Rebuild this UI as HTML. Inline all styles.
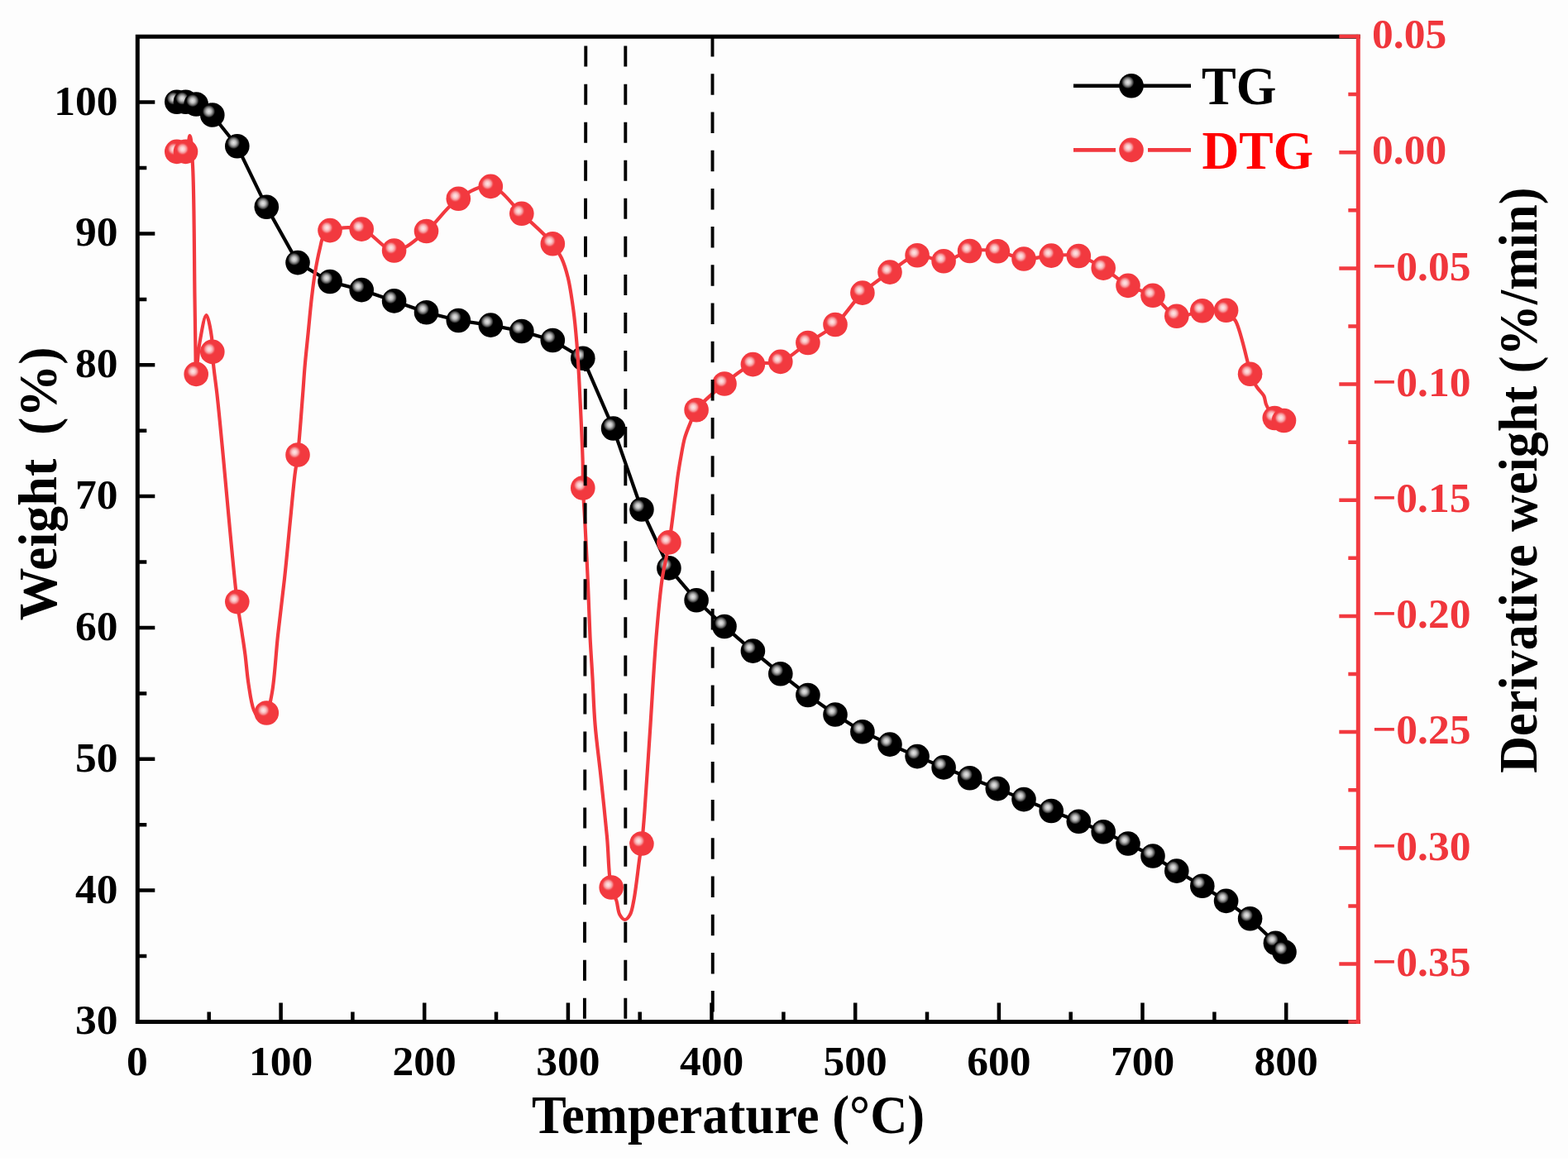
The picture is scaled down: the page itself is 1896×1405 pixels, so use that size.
<!DOCTYPE html><html><head><meta charset="utf-8"><title>TG DTG</title><style>
html,body{margin:0;padding:0;background:#fff;overflow:hidden}svg{display:block}
text{font-family:"Liberation Serif","Times New Roman",serif;font-weight:bold}
</style></head><body>
<svg width="1896" height="1405" viewBox="0 0 1896 1405">
<defs>
<radialGradient id="hb" cx="0.5" cy="0.5" r="0.5"><stop offset="0" stop-color="#e8e8e8"/><stop offset="0.35" stop-color="#c2c2c2"/><stop offset="0.62" stop-color="#7a7a7a"/><stop offset="0.85" stop-color="#2a2a2a"/><stop offset="1" stop-color="#000" stop-opacity="0"/></radialGradient>
<radialGradient id="hr" cx="0.5" cy="0.5" r="0.5"><stop offset="0" stop-color="#fde9e9"/><stop offset="0.35" stop-color="#fbc9ca"/><stop offset="0.65" stop-color="#f6898d"/><stop offset="1" stop-color="#F2393F" stop-opacity="0"/></radialGradient>
<symbol id="mb" overflow="visible"><circle cx="0" cy="0" r="14.8" fill="#000"/><circle cx="-4.3" cy="-4.3" r="8" fill="url(#hb)"/></symbol>
<symbol id="mr" overflow="visible"><circle cx="0" cy="0" r="14.8" fill="#F2393F"/><circle cx="-3.8" cy="-3.3" r="8" fill="url(#hr)"/></symbol>
</defs>
<rect width="1896" height="1405" fill="#fdfdfd"/><rect y="1401" width="1896" height="4" fill="#fff"/>
<g stroke="#000" stroke-width="5" fill="none" stroke-linecap="square">
<path d="M1642.3 44.2 H166.3 V1235.6 H1642.3"/>
</g>
<path d="M166.3 1156.1h11M166.3 1076.6h21M166.3 997.2h11M166.3 917.8h21M166.3 838.4h11M166.3 759.0h21M166.3 679.5h11M166.3 600.1h21M166.3 520.7h11M166.3 441.3h21M166.3 361.9h11M166.3 282.4h21M166.3 203.0h11M166.3 123.6h21M252.7 1235.6v-12M339.6 1235.6v-23M426.4 1235.6v-12M513.2 1235.6v-23M600.0 1235.6v-12M686.9 1235.6v-23M773.7 1235.6v-12M860.5 1235.6v-23M947.4 1235.6v-12M1034.2 1235.6v-23M1121.0 1235.6v-12M1207.9 1235.6v-23M1294.7 1235.6v-12M1381.5 1235.6v-23M1468.4 1235.6v-12M1555.2 1235.6v-23" stroke="#000" stroke-width="4.5" fill="none"/>
<path d="M1642.3 44.0h-23M1642.3 114.1h-12M1642.3 184.2h-23M1642.3 254.3h-12M1642.3 324.4h-23M1642.3 394.5h-12M1642.3 464.6h-23M1642.3 534.7h-12M1642.3 604.7h-23M1642.3 674.8h-12M1642.3 744.9h-23M1642.3 815.0h-12M1642.3 885.1h-23M1642.3 955.2h-12M1642.3 1025.3h-23M1642.3 1095.4h-12M1642.3 1165.5h-23M1642.3 1235.6h-12" stroke="#F2393F" stroke-width="4.5" fill="none"/>
<line x1="1642.3" y1="41.7" x2="1642.3" y2="1238.1" stroke="#F2393F" stroke-width="5"/>
<g font-size="51.5" fill="#000" text-anchor="end">
<text x="142.6" y="1250.4">30</text>
<text x="142.6" y="1091.5">40</text>
<text x="142.6" y="932.7">50</text>
<text x="142.6" y="773.9">60</text>
<text x="142.6" y="615.0">70</text>
<text x="142.6" y="456.2">80</text>
<text x="142.6" y="297.3">90</text>
<text x="142.6" y="138.5">100</text>
</g>
<g font-size="51.5" fill="#000" text-anchor="middle">
<text x="165.9" y="1299.5">0</text>
<text x="339.6" y="1299.5">100</text>
<text x="513.2" y="1299.5">200</text>
<text x="686.9" y="1299.5">300</text>
<text x="860.5" y="1299.5">400</text>
<text x="1034.2" y="1299.5">500</text>
<text x="1207.9" y="1299.5">600</text>
<text x="1381.5" y="1299.5">700</text>
<text x="1555.2" y="1299.5">800</text>
</g>
<g font-size="51.5" fill="#F0363C" text-anchor="start">
<text x="1659" y="58.2">0.05</text>
<text x="1659" y="198.4">0.00</text>
<text x="1659" y="338.6">−0.05</text>
<text x="1659" y="478.8">−0.10</text>
<text x="1659" y="618.9">−0.15</text>
<text x="1659" y="759.1">−0.20</text>
<text x="1659" y="899.3">−0.25</text>
<text x="1659" y="1039.5">−0.30</text>
<text x="1659" y="1179.7">−0.35</text>
</g>
<text transform="translate(643 1370) scale(0.963 1)" font-size="65" fill="#000">Temperature (°C)</text>
<text transform="translate(68.3 750.4) rotate(-90) scale(0.985 1)" font-size="65" fill="#000">Weight</text>
<text transform="translate(68.3 526.0) rotate(-90) scale(0.985 1)" font-size="65" fill="#000">(%)</text>
<text transform="translate(1858.4 934.8) rotate(-90) scale(0.957 1)" font-size="65" fill="#000">Derivative weight (%/min)</text>
<polyline points="213.8,123.3 224.5,123.3 237.2,126.0 256.8,139.0 286.8,176.8 322.3,250.2 360.0,317.6 399.0,340.5 437.2,350.6 476.6,363.9 515.5,377.7 554.3,387.5 593.3,393.1 630.8,400.5 668.3,411.5 704.8,433.2 741.6,518.0 775.9,616.0 808.9,686.9 842.1,725.8 876.0,757.5 910.4,787.1 943.8,814.7 976.9,840.5 1010.0,864.0 1042.9,884.7 1076.0,900.1 1109.1,914.6 1141.1,927.9 1172.6,940.7 1206.3,953.6 1238.0,966.6 1271.2,980.5 1304.3,993.3 1334.2,1005.7 1364.0,1020.0 1394.0,1035.0 1422.8,1053.1 1453.8,1071.3 1482.6,1089.4 1511.6,1110.8 1542.4,1140.3 1553.0,1151.0" fill="none" stroke="#000" stroke-width="4.2" stroke-linejoin="round"/>
<use href="#mb" x="213.8" y="123.3"/>
<use href="#mb" x="224.5" y="123.3"/>
<use href="#mb" x="237.2" y="126.0"/>
<use href="#mb" x="256.8" y="139.0"/>
<use href="#mb" x="286.8" y="176.8"/>
<use href="#mb" x="322.3" y="250.2"/>
<use href="#mb" x="360.0" y="317.6"/>
<use href="#mb" x="399.0" y="340.5"/>
<use href="#mb" x="437.2" y="350.6"/>
<use href="#mb" x="476.6" y="363.9"/>
<use href="#mb" x="515.5" y="377.7"/>
<use href="#mb" x="554.3" y="387.5"/>
<use href="#mb" x="593.3" y="393.1"/>
<use href="#mb" x="630.8" y="400.5"/>
<use href="#mb" x="668.3" y="411.5"/>
<use href="#mb" x="704.8" y="433.2"/>
<use href="#mb" x="741.6" y="518.0"/>
<use href="#mb" x="775.9" y="616.0"/>
<use href="#mb" x="808.9" y="686.9"/>
<use href="#mb" x="842.1" y="725.8"/>
<use href="#mb" x="876.0" y="757.5"/>
<use href="#mb" x="910.4" y="787.1"/>
<use href="#mb" x="943.8" y="814.7"/>
<use href="#mb" x="976.9" y="840.5"/>
<use href="#mb" x="1010.0" y="864.0"/>
<use href="#mb" x="1042.9" y="884.7"/>
<use href="#mb" x="1076.0" y="900.1"/>
<use href="#mb" x="1109.1" y="914.6"/>
<use href="#mb" x="1141.1" y="927.9"/>
<use href="#mb" x="1172.6" y="940.7"/>
<use href="#mb" x="1206.3" y="953.6"/>
<use href="#mb" x="1238.0" y="966.6"/>
<use href="#mb" x="1271.2" y="980.5"/>
<use href="#mb" x="1304.3" y="993.3"/>
<use href="#mb" x="1334.2" y="1005.7"/>
<use href="#mb" x="1364.0" y="1020.0"/>
<use href="#mb" x="1394.0" y="1035.0"/>
<use href="#mb" x="1422.8" y="1053.1"/>
<use href="#mb" x="1453.8" y="1071.3"/>
<use href="#mb" x="1482.6" y="1089.4"/>
<use href="#mb" x="1511.6" y="1110.8"/>
<use href="#mb" x="1542.4" y="1140.3"/>
<use href="#mb" x="1553.0" y="1151.0"/>
<path d="M213.8 183.4C217.4 183.4 221.9 185.4 224.5 183.4C228.0 180.7 228.3 163.9 229.6 164.0C231.4 164.1 232.1 183.7 233.0 200.0C234.9 234.3 234.9 317.5 235.5 360.0C235.9 388.1 236.2 413.1 236.5 430.0C236.7 439.5 236.4 452.4 237.0 452.4C237.8 452.4 239.3 426.3 241.5 414.0C243.6 402.5 247.0 381.0 249.5 381.0C251.8 381.0 254.9 399.9 256.0 408.0C256.9 414.4 256.4 419.4 256.8 425.4C257.2 431.7 257.7 437.8 258.5 445.0C259.5 454.0 260.9 463.4 262.3 475.4C264.3 492.8 266.1 512.5 268.7 539.5C273.2 585.7 282.0 689.6 286.8 727.6C288.9 744.2 290.6 752.0 292.3 763.3C293.8 773.4 295.2 781.9 296.5 792.0C297.9 803.1 298.7 815.7 300.5 827.0C302.2 837.8 303.8 851.2 306.8 858.3C308.6 862.5 310.4 866.9 313.0 867.5C315.6 868.1 319.8 865.2 322.3 862.0C326.1 856.9 327.2 847.2 329.1 836.6C332.2 819.4 333.5 791.0 336.0 768.2C338.5 745.4 341.5 722.5 344.0 699.7C346.5 676.9 348.6 653.1 350.8 631.3C352.8 611.4 354.7 589.2 356.5 574.2C357.7 564.4 358.8 560.2 360.0 550.0C362.0 532.6 364.3 499.6 365.9 479.4C367.1 464.2 367.7 452.9 368.9 439.6C370.1 426.3 371.6 413.0 372.9 399.7C374.2 386.4 375.5 372.1 376.9 359.8C378.2 349.1 379.2 339.9 380.9 330.0C382.6 320.0 384.9 308.1 386.9 300.0C388.3 294.4 388.7 289.7 390.9 286.0C392.8 282.8 394.5 280.3 398.5 278.6C406.1 275.3 424.8 273.6 437.2 277.1C450.9 280.9 463.4 302.7 476.6 303.0C489.5 303.2 503.1 289.3 515.5 279.5C529.1 268.7 540.3 249.3 554.3 240.2C566.5 232.3 581.0 223.2 593.3 225.4C606.7 227.8 618.4 246.9 630.8 258.3C643.4 270.0 660.0 284.3 668.3 294.7C673.5 301.2 676.0 305.6 679.0 312.0C682.3 319.1 684.6 326.8 686.8 335.8C689.6 347.2 691.6 362.1 693.4 375.3C695.2 388.4 696.3 401.5 697.4 414.7C698.5 427.8 699.2 440.1 700.0 454.2C700.9 470.5 701.8 489.3 702.6 506.8C703.4 524.4 704.3 544.3 704.7 559.5C705.0 571.0 704.6 579.0 705.0 590.0C705.4 603.1 706.6 616.8 707.4 633.0C708.5 653.9 709.9 681.6 710.9 705.0C711.9 727.2 712.5 749.8 713.5 770.0C714.4 787.8 715.5 802.8 716.5 820.0C717.5 838.2 718.0 857.2 719.6 876.3C721.2 896.2 724.0 915.7 726.3 937.0C728.8 960.7 731.8 988.3 734.0 1012.0C736.0 1033.4 735.8 1059.4 739.0 1073.0C740.7 1080.2 743.7 1083.5 745.4 1089.0C747.1 1094.5 747.1 1102.0 749.4 1106.0C751.0 1108.8 753.5 1112.0 755.6 1112.0C757.7 1112.0 760.2 1108.8 761.8 1106.0C764.2 1102.0 764.8 1096.3 766.3 1089.0C768.8 1076.5 771.6 1050.0 773.4 1037.4C774.5 1030.1 775.2 1026.9 776.0 1020.0C777.2 1009.8 778.2 997.8 779.4 981.9C781.5 955.5 784.1 911.5 786.5 876.3C788.8 841.1 790.9 802.3 793.5 770.7C795.7 744.9 797.6 721.0 800.6 700.4C803.0 684.0 806.6 671.8 809.1 656.5C811.8 640.0 814.1 619.5 816.0 604.6C817.5 593.3 818.4 583.9 819.7 574.7C820.9 566.7 822.0 559.8 823.4 552.3C824.8 544.8 826.0 536.6 827.9 529.8C829.6 523.8 831.6 518.9 833.9 513.4C836.3 507.6 837.6 502.0 842.1 495.7C849.1 486.0 864.3 473.4 876.0 464.0C887.1 455.1 898.4 444.9 910.4 440.6C921.1 436.7 933.2 441.3 943.8 437.4C955.4 433.1 965.8 422.0 976.9 414.5C987.9 407.0 999.6 401.7 1010.0 392.5C1021.8 382.1 1031.3 365.0 1042.9 354.1C1053.4 344.2 1064.8 336.8 1076.0 329.1C1086.9 321.7 1097.8 310.7 1109.1 308.8C1119.5 307.0 1130.6 316.5 1141.1 315.7C1151.8 314.9 1161.7 305.5 1172.6 303.5C1183.5 301.5 1195.3 302.1 1206.3 303.7C1217.1 305.3 1227.2 312.1 1238.0 313.0C1248.8 313.9 1260.1 309.7 1271.2 309.1C1282.2 308.5 1293.8 307.0 1304.3 309.5C1314.8 312.0 1324.5 318.3 1334.2 324.1C1344.4 330.2 1353.7 339.8 1364.0 345.4C1373.7 350.7 1384.6 351.5 1394.0 357.2C1404.3 363.4 1412.3 379.5 1422.8 382.2C1432.4 384.7 1443.6 376.8 1453.8 375.7C1463.5 374.6 1477.1 372.8 1482.6 375.3C1485.6 376.6 1486.1 379.4 1488.0 381.5C1490.0 383.7 1492.1 384.7 1494.2 388.4C1499.0 397.0 1505.5 425.1 1508.4 436.8C1510.0 443.3 1509.8 447.2 1511.6 452.2C1513.5 457.6 1516.8 463.4 1519.8 468.0C1522.4 472.1 1526.4 475.0 1528.3 478.8C1530.0 482.2 1529.5 485.7 1531.2 489.5C1533.4 494.5 1537.1 502.4 1541.3 505.5C1544.6 507.9 1548.8 507.5 1552.5 508.5" fill="none" stroke="#F2393F" stroke-width="4.2" stroke-linejoin="round"/>
<use href="#mr" x="213.8" y="183.4"/>
<use href="#mr" x="224.5" y="183.4"/>
<use href="#mr" x="237.2" y="452.4"/>
<use href="#mr" x="256.8" y="425.4"/>
<use href="#mr" x="286.8" y="727.6"/>
<use href="#mr" x="322.3" y="862.0"/>
<use href="#mr" x="360.0" y="550.0"/>
<use href="#mr" x="399.0" y="278.6"/>
<use href="#mr" x="437.2" y="277.1"/>
<use href="#mr" x="476.6" y="303.0"/>
<use href="#mr" x="515.5" y="279.5"/>
<use href="#mr" x="554.3" y="240.2"/>
<use href="#mr" x="593.3" y="225.4"/>
<use href="#mr" x="630.8" y="258.3"/>
<use href="#mr" x="668.3" y="294.7"/>
<use href="#mr" x="704.8" y="590.0"/>
<use href="#mr" x="739.2" y="1073.0"/>
<use href="#mr" x="775.9" y="1020.0"/>
<use href="#mr" x="808.9" y="655.9"/>
<use href="#mr" x="842.1" y="495.7"/>
<use href="#mr" x="876.0" y="464.0"/>
<use href="#mr" x="910.4" y="440.6"/>
<use href="#mr" x="943.8" y="437.4"/>
<use href="#mr" x="976.9" y="414.5"/>
<use href="#mr" x="1010.0" y="392.5"/>
<use href="#mr" x="1042.9" y="354.1"/>
<use href="#mr" x="1076.0" y="329.1"/>
<use href="#mr" x="1109.1" y="308.8"/>
<use href="#mr" x="1141.1" y="315.7"/>
<use href="#mr" x="1172.6" y="303.5"/>
<use href="#mr" x="1206.3" y="303.7"/>
<use href="#mr" x="1238.0" y="313.0"/>
<use href="#mr" x="1271.2" y="309.1"/>
<use href="#mr" x="1304.3" y="309.5"/>
<use href="#mr" x="1334.2" y="324.1"/>
<use href="#mr" x="1364.0" y="345.4"/>
<use href="#mr" x="1394.0" y="357.2"/>
<use href="#mr" x="1422.8" y="382.2"/>
<use href="#mr" x="1453.8" y="375.7"/>
<use href="#mr" x="1482.6" y="375.3"/>
<use href="#mr" x="1511.6" y="452.2"/>
<use href="#mr" x="1541.3" y="505.5"/>
<use href="#mr" x="1552.5" y="508.5"/>
<g stroke="#000" stroke-width="3.9" fill="none">
<line x1="708.3" y1="55.6" x2="706.9" y2="1235.6" stroke-dasharray="25 21.05"/>
<line x1="756.3" y1="55.6" x2="756.3" y2="1235.6" stroke-dasharray="25 21.05"/>
<line x1="861.5" y1="43.1" x2="861.8" y2="1235.6" stroke-dasharray="25.5 20.7"/>
</g>
<line x1="1298" y1="103.8" x2="1440" y2="103.8" stroke="#000" stroke-width="4.6"/>
<use href="#mb" x="1368" y="103.8"/>
<line x1="1298" y1="181.4" x2="1349" y2="181.4" stroke="#F2393F" stroke-width="4.6"/>
<line x1="1388" y1="181.4" x2="1440" y2="181.4" stroke="#F2393F" stroke-width="4.6"/>
<use href="#mr" x="1368" y="181.4"/>
<text transform="translate(1453 125.6) scale(0.948 1)" font-size="66" fill="#000">TG</text>
<text transform="translate(1453.5 204.2) scale(0.94 1)" font-size="66" fill="#ff0000">DTG</text>
</svg></body></html>
